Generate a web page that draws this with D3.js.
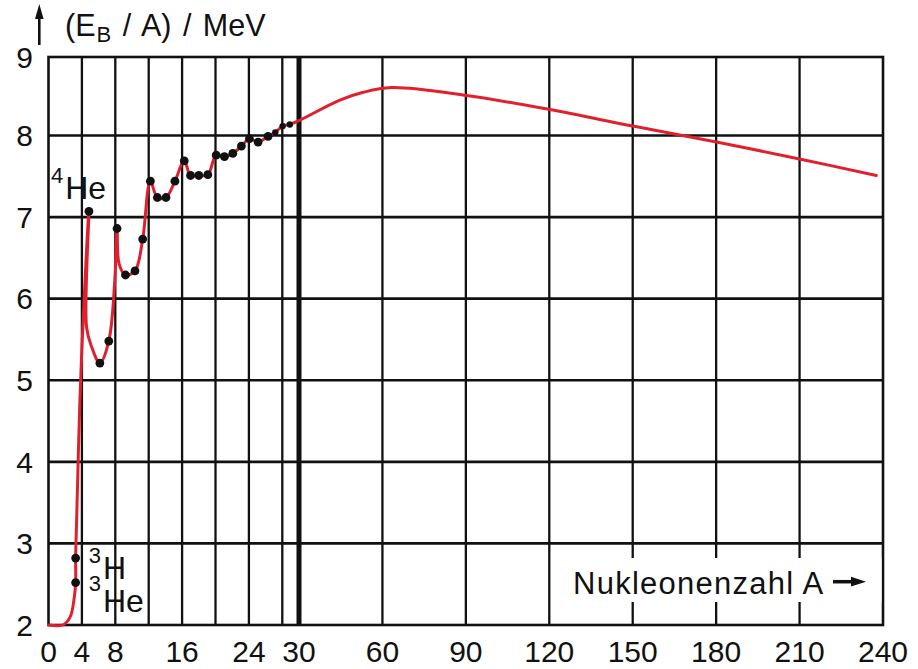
<!DOCTYPE html>
<html>
<head>
<meta charset="utf-8">
<script src="https://cdn.jsdelivr.net/npm/d3@7"></script>
<style>
  html, body { margin: 0; padding: 0; background: #fff; }
  svg { display: block; font-family: "Liberation Sans", Arial, Helvetica, sans-serif; }
</style>
</head>
<body>
<svg id="chart" width="918" height="669"></svg>
<script>
// Binding energy per nucleon vs. mass number A

// nuclide points (mass number, E_B/A in MeV)
const dotA = [3.25, 3.25, 4.84, 6.15, 7.22, 8.21, 9.22, 10.36, 11.28, 12.2, 13.04, 14.07, 15.14,
              16.26, 17.01, 18.0, 19.08, 20.08, 21.07, 22.07, 23.1, 24.06, 25.1, 26.3, 27.16, 28.04, 28.9];
const dotE = [2.82, 2.52, 7.07, 5.21, 5.48, 6.86, 6.29, 6.34, 6.73, 7.44, 7.24, 7.24, 7.44,
              7.69, 7.51, 7.51, 7.52, 7.76, 7.74, 7.78, 7.87, 7.96, 7.92, 7.99, 8.04, 8.12, 8.14];

// trend curve (mass number, E_B/A in MeV)
const curveA = [0, 1.7, 2.6, 3.1, 3.25, 3.25, 3.37, 3.76, 4.15, 4.84, 4.56, 5.16, 6.15, 7.22, 7.94, 8.21,
                8.45, 9.22, 10.36, 11.28, 12.2, 13.04, 14.07, 15.14, 16.26, 17.01, 18.0, 19.08, 20.08,
                21.07, 22.07, 23.1, 24.06, 25.1, 26.3, 27.16, 28.04, 28.9, 30, 44.7, 53.1, 63.3,
                90.3, 120.2, 150.1, 180.1, 210.4, 237.6];
const curveE = [2.0, 2.0, 2.1, 2.35, 2.52, 2.82, 3.29, 4.75, 5.73, 7.07, 5.65, 5.41, 5.21, 5.48, 6.23, 6.86,
                6.43, 6.29, 6.34, 6.73, 7.44, 7.24, 7.24, 7.44, 7.69, 7.51, 7.51, 7.52, 7.76,
                7.74, 7.78, 7.87, 7.96, 7.92, 7.99, 8.04, 8.12, 8.14, 8.19, 8.45, 8.55, 8.61,
                8.51, 8.33, 8.12, 7.92, 7.71, 7.51];

const xTickLabels = [0, 4, 8, 16, 24, 30, 60, 90, 120, 150, 180, 210, 240];
const yTickLabels = [2, 3, 4, 5, 6, 7, 8, 9];
const xGridFine = [4, 8, 12, 16, 20, 24, 28];
const xGridCoarse = [60, 90, 120, 150, 180, 210];
const yGrid = [3, 4, 5, 6, 7, 8];

const nuclideLabels = [
  { sup: "4", text: "He", A: 4.84, E: 7.07 },
  { sup: "3", text: "H", A: 3.25, E: 2.82 },
  { sup: "3", text: "He", A: 3.25, E: 2.52 }
];

const svg = d3.select("#chart");
const ink = "#111";
const red = "#e1202e";

// broken x axis: 0..30 stretched, 30..240 compressed
const x = d3.scaleLinear().domain([0, 30, 240]).range([48.5, 299, 883]);
const y = d3.scaleLinear().domain([2, 8, 9]).range([625, 135.5, 57]);

const plotTop = y(9), plotBottom = y(2), plotLeft = x(0), plotRight = x(240);

// grid
const g = svg.append("g");
g.selectAll("line.hg").data(yGrid).join("line")
  .attr("x1", plotLeft).attr("x2", plotRight)
  .attr("y1", d => y(d)).attr("y2", d => y(d))
  .attr("stroke", ink).attr("stroke-width", 2.6);
g.selectAll("line.vf").data(xGridFine.concat(xGridCoarse)).join("line")
  .attr("x1", d => x(d)).attr("x2", d => x(d))
  .attr("y1", plotTop).attr("y2", plotBottom)
  .attr("stroke", ink).attr("stroke-width", 2.3);
g.append("line")
  .attr("x1", x(30)).attr("x2", x(30)).attr("y1", plotTop).attr("y2", plotBottom)
  .attr("stroke", ink).attr("stroke-width", 5);
g.append("rect")
  .attr("x", plotLeft).attr("y", plotTop)
  .attr("width", plotRight - plotLeft).attr("height", plotBottom - plotTop)
  .attr("fill", "none").attr("stroke", ink).attr("stroke-width", 2.6);

// axis title box in the lower right
svg.append("rect")
  .attr("x", 560).attr("y", 558).attr("width", plotRight - 1.5 - 560).attr("height", 44)
  .attr("fill", "#fff");
svg.append("text")
  .attr("x", 573).attr("y", 594)
  .attr("font-size", 31).attr("letter-spacing", 1.25).attr("fill", ink)
  .text("Nukleonenzahl A");
svg.append("line")
  .attr("x1", 833).attr("x2", 855).attr("y1", 581.7).attr("y2", 581.7)
  .attr("stroke", ink).attr("stroke-width", 3.5);
svg.append("path")
  .attr("d", "M866,581.7 L851,576.8 L851,586.6 Z").attr("fill", ink);

// y title with arrow
svg.append("line")
  .attr("x1", 39.3).attr("x2", 39.3).attr("y1", 45).attr("y2", 14)
  .attr("stroke", ink).attr("stroke-width", 2.6);
svg.append("path")
  .attr("d", "M39.3,4 L35,19 L43.6,19 Z").attr("fill", ink);
const yt = svg.append("text")
  .attr("x", 65).attr("y", 36).attr("font-size", 30.5).attr("word-spacing", 3).attr("fill", ink);
yt.append("tspan").text("(E");
yt.append("tspan").attr("font-size", 22).attr("dx", 1).attr("dy", 6).text("B");
yt.append("tspan").attr("dy", -6).text(" / A) / MeV");

// tick labels
svg.append("g").selectAll("text").data(xTickLabels).join("text")
  .attr("x", d => x(d)).attr("y", 662)
  .attr("text-anchor", "middle").attr("font-size", 30).attr("fill", ink)
  .text(d => d);
svg.append("g").selectAll("text").data(yTickLabels).join("text")
  .attr("x", 33).attr("y", d => y(d)).attr("dy", "0.36em")
  .attr("text-anchor", "end").attr("font-size", 30).attr("fill", ink)
  .text(d => d);

// trend curve
const pts = curveA.map((a, i) => [a, curveE[i]]);
svg.append("path")
  .datum(pts)
  .attr("d", d3.line().x(d => x(d[0])).y(d => y(d[1])).curve(d3.curveCatmullRom.alpha(0.5)))
  .attr("fill", "none").attr("stroke", red).attr("stroke-width", 3)
  .attr("stroke-linejoin", "round").attr("stroke-linecap", "round");

// nuclide dots
svg.append("g").selectAll("circle").data(dotA.map((a, i) => [a, dotE[i]])).join("circle")
  .attr("cx", d => x(d[0])).attr("cy", d => y(d[1]))
  .attr("r", d => d[0] > 26.5 ? 3.2 : 4.4)
  .attr("fill", ink);

// nuclide labels
const lblPos = [
  { dx: -38, dy: -12, supDy: -16 },
  { dx: 13, dy: 21, supDy: -16 },
  { dx: 13, dy: 29, supDy: -21 }
];
nuclideLabels.forEach((n, i) => {
  const p = lblPos[i];
  const t = svg.append("text")
    .attr("x", x(n.A) + p.dx).attr("y", y(n.E) + p.dy)
    .attr("font-size", 32).attr("fill", ink);
  t.append("tspan").attr("font-size", 22).attr("dy", p.supDy).text(n.sup);
  t.append("tspan").attr("dx", 2).attr("dy", -p.supDy).text(n.text);
});
</script>
</body>
</html>
